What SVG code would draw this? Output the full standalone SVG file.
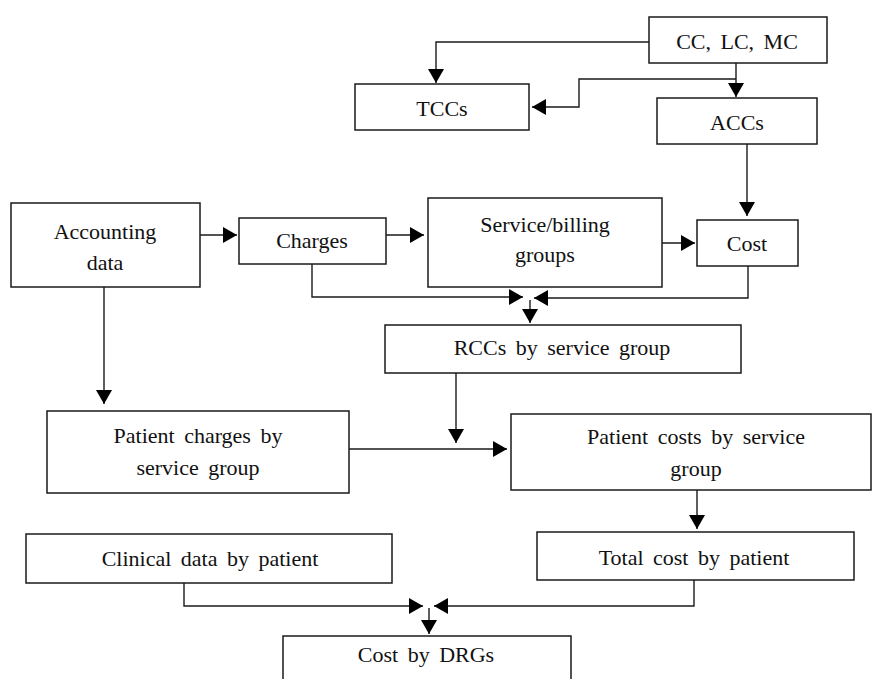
<svg xmlns="http://www.w3.org/2000/svg" width="872" height="679" viewBox="0 0 872 679">
<style>
.box{fill:#fff;stroke:#1a1a1a;stroke-width:1.5}
.lbl{font-family:"Liberation Serif","Times New Roman",serif;font-size:22px;fill:#111;text-anchor:middle;word-spacing:4px}
.con{fill:none;stroke:#1a1a1a;stroke-width:1.4}
</style>
<defs>
<marker id="ah" markerUnits="userSpaceOnUse" markerWidth="15" markerHeight="16" refX="14" refY="8" orient="auto">
<path d="M0,0 L14,8 L0,16 z" fill="#000"/>
</marker>
</defs>
<rect width="872" height="679" fill="#fff"/>
<g id="connectors">
<path class="con" marker-end="url(#ah)" d="M649,42 H436 V83"/>
<path class="con" marker-end="url(#ah)" d="M736,63 V97"/>
<path class="con" marker-end="url(#ah)" d="M736,79 H579 V107 H532"/>
<path class="con" marker-end="url(#ah)" d="M747,144 V216"/>
<path class="con" marker-end="url(#ah)" d="M200,235 H237"/>
<path class="con" marker-end="url(#ah)" d="M386,235 H424"/>
<path class="con" marker-end="url(#ah)" d="M662,243 H695"/>
<path class="con" marker-end="url(#ah)" d="M312,264 V297 H523"/>
<path class="con" marker-end="url(#ah)" d="M748,266 V298 H534"/>
<path class="con" marker-end="url(#ah)" d="M530,300 V323"/>
<path class="con" marker-end="url(#ah)" d="M104,287 V404"/>
<path class="con" marker-end="url(#ah)" d="M456,373 V443"/>
<path class="con" marker-end="url(#ah)" d="M349,449 H507"/>
<path class="con" marker-end="url(#ah)" d="M697,490 V529"/>
<path class="con" marker-end="url(#ah)" d="M184,583 V606 H423"/>
<path class="con" marker-end="url(#ah)" d="M694,580 V606 H434"/>
<path class="con" marker-end="url(#ah)" d="M429,608 V634"/>
</g>
<g id="cc"><rect class="box" x="649" y="17" width="178" height="46"/><text class="lbl" x="737" y="49">CC, LC, MC</text></g>
<g id="tccs"><rect class="box" x="355" y="84" width="174" height="46"/><text class="lbl" x="442" y="116">TCCs</text></g>
<g id="accs"><rect class="box" x="657" y="98" width="160" height="46"/><text class="lbl" x="737" y="130">ACCs</text></g>
<g id="accounting"><rect class="box" x="11" y="203" width="189" height="84"/><text class="lbl" x="105" y="239">Accounting</text><text class="lbl" x="105" y="270">data</text></g>
<g id="charges"><rect class="box" x="239" y="218" width="147" height="46"/><text class="lbl" x="312" y="248">Charges</text></g>
<g id="service"><rect class="box" x="428" y="198" width="234" height="89"/><text class="lbl" x="545" y="232">Service/billing</text><text class="lbl" x="545" y="262">groups</text></g>
<g id="cost"><rect class="box" x="697" y="220" width="101" height="46"/><text class="lbl" x="747" y="251">Cost</text></g>
<g id="rccs"><rect class="box" x="385" y="325" width="356" height="48"/><text class="lbl" x="562" y="355">RCCs by service group</text></g>
<g id="patient-charges"><rect class="box" x="47" y="411" width="302" height="82"/><text class="lbl" x="198" y="443">Patient charges by</text><text class="lbl" x="198" y="475">service group</text></g>
<g id="patient-costs"><rect class="box" x="511" y="414" width="360" height="76"/><text class="lbl" x="696" y="444">Patient costs by service</text><text class="lbl" x="696" y="476">group</text></g>
<g id="clinical"><rect class="box" x="26" y="534" width="366" height="49"/><text class="lbl" x="210" y="566">Clinical data by patient</text></g>
<g id="total-cost"><rect class="box" x="537" y="532" width="317" height="48"/><text class="lbl" x="694" y="565">Total cost by patient</text></g>
<g id="drgs"><rect class="box" x="283" y="636" width="288" height="60"/><text class="lbl" x="426" y="662">Cost by DRGs</text></g>
</svg>
